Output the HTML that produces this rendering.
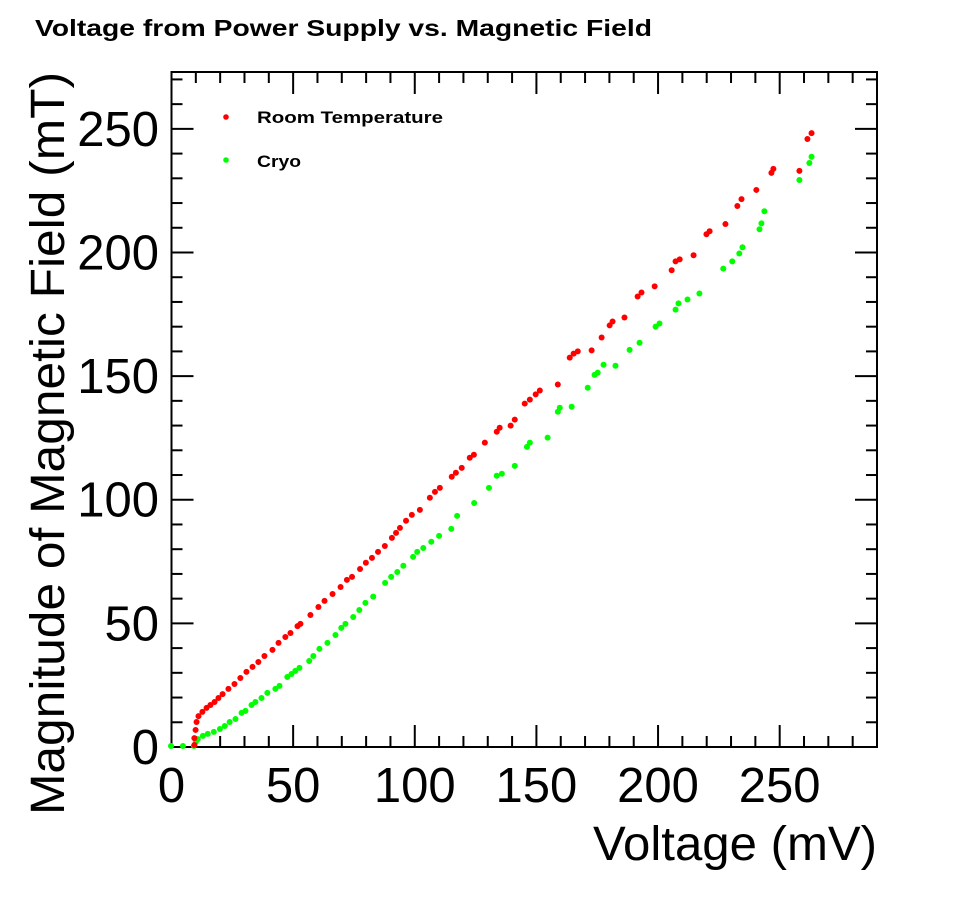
<!DOCTYPE html>
<html><head><meta charset="utf-8"><style>
html,body{margin:0;padding:0;background:#fff;}
svg{display:block;font-family:"Liberation Sans",Arial,sans-serif;}
</style></head><body>
<svg id="chart" width="954" height="912" viewBox="0 0 954 912">
<rect x="0" y="0" width="954" height="912" fill="#fff"/>
<text x="35" y="36" font-size="23" font-weight="bold" textLength="617" lengthAdjust="spacingAndGlyphs">Voltage from Power Supply vs. Magnetic Field</text>
<g id="axes"></g>
<g id="marks"></g>
<g id="legend">
<circle cx="226" cy="117" r="2.8" fill="#ff0000"/>
<text x="257" y="123" font-size="17" font-weight="bold" textLength="186" lengthAdjust="spacingAndGlyphs">Room Temperature</text>
<circle cx="226" cy="160" r="2.8" fill="#00ff00"/>
<text x="257" y="167" font-size="17" font-weight="bold" textLength="44" lengthAdjust="spacingAndGlyphs">Cryo</text>
</g>
<text x="877" y="860" font-size="48" text-anchor="end" textLength="284" lengthAdjust="spacingAndGlyphs">Voltage (mV)</text>
<text transform="translate(64,72) rotate(-90)" font-size="48" text-anchor="end" textLength="743" lengthAdjust="spacingAndGlyphs">Magnitude of Magnetic Field (mT)</text>
</svg>
<script>
const xTicks=[0,50,100,150,200,250];
const yTicks=[0,50,100,150,200,250];
const xMax=290, yMax=273;
const roomV=[9.4,9.4,9.9,10.3,11.1,12.7,14.4,16,17.7,19.3,21,23.4,25.9,28.3,30.8,33.3,35.7,38.2,41.5,44,46.8,48.9,51.8,53,57.1,60.4,62.9,66.2,69.5,72.1,74.2,77.5,79.9,82.4,84.9,87.7,90.6,92.3,93.9,96.4,98.8,102.1,106.2,108.3,110.3,115.2,116.9,119.3,122.6,124.3,128.8,133.7,134.9,139.4,141.1,145.2,147.3,149.7,151.4,158.8,163.7,165.3,167,172.7,176.8,180.1,181.3,186.2,191.6,193.2,198.6,205.6,207.2,208.9,214.6,219.9,221.2,227.7,232.6,234.3,240.4,246.6,247.4,258.1,261.4,263.1];
const roomB=[0.8,3.6,6.9,10.1,12.5,14.2,15.8,17,18.2,19.8,21.4,23.5,25.5,27.9,30.4,32.4,34.4,36.8,39.3,42.1,44.5,46.1,48.9,49.8,53.4,56.6,59.1,61.9,64.7,67.6,68.8,72,74.5,76.5,78.9,81.3,84.6,86.6,88.6,91.5,93.9,95.9,100.8,103.2,104.8,109.3,110.9,112.9,117,118.2,123.1,127.5,129.1,130,132.4,138.9,140.5,142.6,144.2,146.6,157.5,159.1,160,160.4,165.6,170.5,172.1,173.7,182.2,183.8,186.3,192.8,196.4,197.2,198.9,207.4,208.6,211.5,218.8,221.6,225.3,232.2,233.8,233,245.9,248.3];
const cryoV=[-0.2,4.7,9.2,10,10.8,12.9,14.9,17.4,19.9,21.9,23.9,26.3,28.8,30.4,32.9,34.5,37,39.4,42.7,44.4,47.6,49.3,50.9,52.6,56.6,58.3,60.8,64.1,67.4,69.8,71.5,74.7,77.2,79.7,82.9,87.8,90.3,92.8,95.3,99.3,101,103.5,106.8,110,115,117.4,124.4,130.5,133.7,135.8,141.1,146.1,147.3,154.6,158.8,159.6,164.5,171.1,173.9,175.2,177.6,182.5,188.3,192.4,199,200.6,207.2,208.4,212.1,217,226.8,230.5,233.4,234.7,241.7,242.5,243.7,258.1,262.2,263.1];
const cryoB=[0.4,0.4,0.4,2,3.2,4.5,5.3,6.1,7.3,8.5,10.1,11.3,13.8,14.6,17,18.2,19.8,21.9,23.5,24.7,28.3,29.5,30.8,32,34.8,36.8,39.7,42.1,45.3,48.2,49.8,52.6,55.4,58.3,60.8,66.4,68.8,70.8,73.3,76.9,78.9,80.5,83,85.4,88.2,93.5,98.7,104.8,109.7,110.5,113.7,121.4,123.1,125.1,135.6,137.2,137.6,145.3,150.5,151.4,154.6,154.2,160.6,163.5,170,171.3,176.9,179.4,181,183.4,193.5,196.4,199.6,202.1,209.4,211.8,216.7,229.3,236.2,238.7];
const L=171.5,R=877,T=72,B=747;
function xs(v){return L+(R-L)*v/xMax;}
function ys(v){return B-(B-T)*v/yMax;}
const NS="http://www.w3.org/2000/svg";
const axes=document.getElementById('axes');
const marks=document.getElementById('marks');
function mk(tag,attrs,parent){const e=document.createElementNS(NS,tag);for(const k in attrs)e.setAttribute(k,attrs[k]);parent.appendChild(e);return e;}
const frame=mk('rect',{x:L,y:T,width:R-L,height:B-T,fill:'none',stroke:'#000','stroke-width':2},axes);


for(let v=0;v<=xMax;v+=10){
  const major=v%50===0;const len=major?22:11;const x=xs(v);
  const t=mk('line',{x1:x,x2:x,y1:B,y2:B-len,stroke:'#000','stroke-width':2},axes);
  
  
  const t2=mk('line',{x1:x,x2:x,y1:T,y2:T+len,stroke:'#000','stroke-width':2},axes);
  
  
}
xTicks.forEach(v=>{
  const t=mk('text',{x:xs(v),y:802,'font-size':49,'text-anchor':'middle'},axes);t.textContent=v;
  
  
});
for(let v=0;v<=yMax;v+=10){
  const major=v%50===0;const len=major?22:11;const y=ys(v);
  const t=mk('line',{x1:L,x2:L+len,y1:y,y2:y,stroke:'#000','stroke-width':2},axes);
  
  
  const t2=mk('line',{x1:R,x2:R-len,y1:y,y2:y,stroke:'#000','stroke-width':2},axes);
  
  
}
yTicks.forEach(v=>{
  const t=mk('text',{x:159,y:ys(v)+17,'font-size':49,'text-anchor':'end'},axes);t.textContent=v;
  
  
});
function series(vs,bs,color,name){
  vs.forEach((v,i)=>{
    const c=mk('circle',{cx:xs(v),cy:ys(bs[i]),r:3,fill:color},marks);
    
    
  });
}
series(cryoV,cryoB,'#00ff00','cryo-point');
series(roomV,roomB,'#ff0000','room-temperature-point');
</script>
</body></html>
